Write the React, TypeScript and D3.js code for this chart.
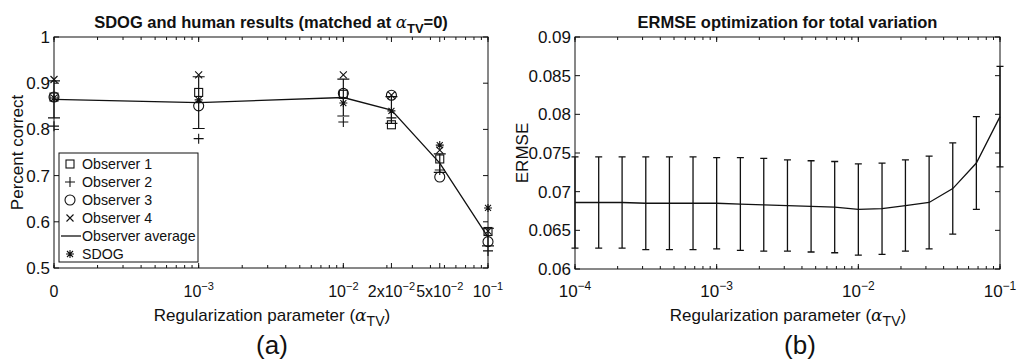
import * as d3 from 'd3'

// ---- left panel data: (a) SDOG and human results
const alphaA = [0.0001, 0.001, 0.01, 0.0215, 0.0464, 0.1]
const tickLabelsA = [
  { base: '0', sup: '' },
  { base: '10', sup: '−3' },
  { base: '10', sup: '−2' },
  { base: '2x10', sup: '−2' },
  { base: '5x10', sup: '−2' },
  { base: '10', sup: '−1' },
]
const observer1 = [0.87, 0.88, 0.876, 0.81, 0.736, 0.579]
const observer2 = [0.807, 0.78, 0.816, 0.825, 0.712, 0.537]
const observer3 = [0.87, 0.851, 0.878, 0.874, 0.697, 0.557]
const observer4 = [0.908, 0.918, 0.918, 0.874, 0.755, 0.58]
const observerAvg = [0.865, 0.858, 0.869, 0.842, 0.727, 0.567]
const observerErr = [0.04, 0.056, 0.04, 0.029, 0.02, 0.019]
const sdog = [0.868, 0.864, 0.857, 0.84, 0.766, 0.63]
const yTicksA = [0.5, 0.6, 0.7, 0.8, 0.9, 1]

// ---- right panel data: (b) ERMSE optimization
const alphaB = [
  0.0001, 0.000147, 0.000215, 0.000316, 0.000464, 0.000681, 0.001, 0.00147, 0.00215, 0.00316,
  0.00464, 0.00681, 0.01, 0.0147, 0.0215, 0.0316, 0.0464, 0.0681, 0.1,
]
const ermse = [
  0.0686, 0.0686, 0.0686, 0.0685, 0.0685, 0.0685, 0.0685, 0.0684, 0.0683, 0.0682, 0.0681, 0.068,
  0.0677, 0.0678, 0.0682, 0.0686, 0.0704, 0.0737, 0.0797,
]
const ermseErr = [
  0.0059, 0.0059, 0.0059, 0.006, 0.006, 0.006, 0.0059, 0.006, 0.006, 0.0059, 0.0059, 0.0059, 0.0059,
  0.0059, 0.0059, 0.006, 0.0059, 0.006, 0.0065,
]
const xTicksB = [0.0001, 0.001, 0.01, 0.1]
const xLabelsB = ['−4', '−3', '−2', '−1']
const yTicksB = [0.06, 0.065, 0.07, 0.075, 0.08, 0.085, 0.09]

const FONT = '"Liberation Sans", Arial, Helvetica, sans-serif'
const INK = '#111'

type MarkerKind = 'square' | 'plus' | 'circle' | 'x' | 'star'

function Marker({ kind, x, y }: { kind: MarkerKind; x: number; y: number }) {
  const s = { stroke: INK, strokeWidth: 1.1, fill: 'none' }
  if (kind === 'square') return <rect x={x - 4} y={y - 4} width={8} height={8} {...s} />
  if (kind === 'circle') return <circle cx={x} cy={y} r={5} {...s} />
  if (kind === 'plus')
    return <path d={`M${x - 5},${y}H${x + 5}M${x},${y - 5}V${y + 5}`} {...s} />
  if (kind === 'x')
    return <path d={`M${x - 3.5},${y - 3.5}L${x + 3.5},${y + 3.5}M${x - 3.5},${y + 3.5}L${x + 3.5},${y - 3.5}`} {...s} />
  return (
    <path
      d={`M${x - 4},${y}H${x + 4}M${x},${y - 4}V${y + 4}M${x - 3},${y - 3}L${x + 3},${y + 3}M${x - 3},${y + 3}L${x + 3},${y - 3}`}
      {...s}
    />
  )
}

function XLabel({ cx, y }: { cx: number; y: number }) {
  return (
    <text x={cx} y={y} textAnchor="middle" fontSize={17} fontFamily={FONT} fill={INK}>
      Regularization parameter (
      <tspan fontFamily="'DejaVu Serif', serif" fontStyle="italic">α</tspan>
      <tspan dy={5} fontSize={14}>TV</tspan>
      <tspan dy={-5}>)</tspan>
    </text>
  )
}

function LogTicks({ x, top, bottom, major }: { x: d3.ScaleLogarithmic<number, number>; top: number; bottom: number; major: number[] }) {
  const minor = x.ticks()
  return (
    <g stroke={INK} strokeWidth={1}>
      {minor.map((t, i) => (
        <g key={'m' + i}>
          <line x1={x(t)} x2={x(t)} y1={bottom} y2={bottom - 3} />
          <line x1={x(t)} x2={x(t)} y1={top} y2={top + 3} />
        </g>
      ))}
      {major.map((t, i) => (
        <g key={'M' + i}>
          <line x1={x(t)} x2={x(t)} y1={bottom} y2={bottom - 5} />
          <line x1={x(t)} x2={x(t)} y1={top} y2={top + 5} />
        </g>
      ))}
    </g>
  )
}

function PanelA() {
  const x = d3.scaleLog().domain([1e-4, 1e-1]).range([54, 488])
  const y = d3.scaleLinear().domain([0.5, 1]).range([268, 37])
  const [x0, x1] = x.range()
  const [y0, y1] = y.range()
  const line = d3.line<number>().x((_, i) => x(alphaA[i])).y((d) => y(d))
  const series: [MarkerKind, number[]][] = [
    ['square', observer1],
    ['plus', observer2],
    ['circle', observer3],
    ['x', observer4],
    ['star', sdog],
  ]
  const legend: [MarkerKind | 'line', string][] = [
    ['square', 'Observer 1'],
    ['plus', 'Observer 2'],
    ['circle', 'Observer 3'],
    ['x', 'Observer 4'],
    ['line', 'Observer average'],
    ['star', 'SDOG'],
  ]
  return (
    <g>
      <text x={(x0 + x1) / 2} y={28} textAnchor="middle" fontSize={16.5} fontWeight="bold" fontFamily={FONT} fill={INK}>
        SDOG and human results (matched at{' '}
        <tspan fontFamily="'DejaVu Serif', serif" fontStyle="italic" fontWeight="normal">α</tspan>
        <tspan dy={5} fontSize={13}>TV</tspan>
        <tspan dy={-5}>=0)</tspan>
      </text>
      <rect x={x0} y={y1} width={x1 - x0} height={y0 - y1} fill="none" stroke={INK} strokeWidth={1} />
      <LogTicks x={x} top={y1} bottom={y0} major={alphaA} />
      {yTicksA.map((t) => (
        <g key={t}>
          <line x1={x0} x2={x0 + 5} y1={y(t)} y2={y(t)} stroke={INK} />
          <line x1={x1} x2={x1 - 5} y1={y(t)} y2={y(t)} stroke={INK} />
          <text x={x0 - 4} y={y(t) + 6} textAnchor="end" fontSize={17} fontFamily={FONT} fill={INK}>
            {t === 1 ? '1' : t.toFixed(1)}
          </text>
        </g>
      ))}
      {tickLabelsA.map((l, i) => (
        <text key={i} x={x(alphaA[i])} y={297} textAnchor="middle" fontSize={16} fontFamily={FONT} fill={INK}>
          {l.base}
          {l.sup && (
            <tspan dy={-7} fontSize={11}>
              {l.sup}
            </tspan>
          )}
        </text>
      ))}
      <text transform={`translate(23,${(y0 + y1) / 2}) rotate(-90)`} textAnchor="middle" fontSize={17} fontFamily={FONT} fill={INK}>
        Percent correct
      </text>
      <XLabel cx={272} y={321} />
      <text x={272} y={354} textAnchor="middle" fontSize={26} fontFamily={FONT} fill={INK}>
        (a)
      </text>
      {/* error bars */}
      {observerAvg.map((m, i) => {
        const cx = x(alphaA[i])
        const ya = y(m + observerErr[i])
        const yb = y(m - observerErr[i])
        return (
          <path key={i} d={`M${cx},${ya}V${yb}M${cx - 6},${ya}H${cx + 6}M${cx - 6},${yb}H${cx + 6}`} stroke={INK} strokeWidth={1.2} fill="none" />
        )
      })}
      <path d={line(observerAvg) || ''} fill="none" stroke={INK} strokeWidth={1.3} />
      {series.map(([kind, vals]) =>
        vals.map((v, i) => <Marker key={kind + i} kind={kind} x={x(alphaA[i])} y={y(v)} />)
      )}
      {/* legend */}
      <rect x={59} y={153} width={139} height={109} fill="#fff" stroke={INK} strokeWidth={1} />
      {legend.map(([kind, label], i) => {
        const ly = 164 + i * 18
        return (
          <g key={label}>
            {kind === 'line' ? (
              <line x1={61} x2={81} y1={ly} y2={ly} stroke={INK} strokeWidth={1.3} />
            ) : (
              <Marker kind={kind} x={70} y={ly} />
            )}
            <text x={82} y={ly + 5} fontSize={14.2} fontFamily={FONT} fill={INK}>
              {label}
            </text>
          </g>
        )
      })}
    </g>
  )
}

function PanelB() {
  const x = d3.scaleLog().domain([1e-4, 1e-1]).range([575, 1000])
  const y = d3.scaleLinear().domain([0.06, 0.09]).range([269, 37])
  const [x0, x1] = x.range()
  const [y0, y1] = y.range()
  const line = d3.line<number>().x((_, i) => x(alphaB[i])).y((d) => y(d))
  return (
    <g>
      <text x={(x0 + x1) / 2} y={28} textAnchor="middle" fontSize={16.5} fontWeight="bold" fontFamily={FONT} fill={INK}>
        ERMSE optimization for total variation
      </text>
      <rect x={x0} y={y1} width={x1 - x0} height={y0 - y1} fill="none" stroke={INK} strokeWidth={1} />
      <LogTicks x={x} top={y1} bottom={y0} major={xTicksB} />
      {yTicksB.map((t) => (
        <g key={t}>
          <line x1={x0} x2={x0 + 5} y1={y(t)} y2={y(t)} stroke={INK} />
          <line x1={x1} x2={x1 - 5} y1={y(t)} y2={y(t)} stroke={INK} />
          <text x={x0 - 4} y={y(t) + 6} textAnchor="end" fontSize={17} fontFamily={FONT} fill={INK}>
            {d3.format('~g')(t)}
          </text>
        </g>
      ))}
      {xTicksB.map((t, i) => (
        <text key={t} x={x(t)} y={297} textAnchor="middle" fontSize={17} fontFamily={FONT} fill={INK}>
          10
          <tspan dy={-7} fontSize={12}>
            {xLabelsB[i]}
          </tspan>
        </text>
      ))}
      <text transform={`translate(528,${(y0 + y1) / 2}) rotate(-90)`} textAnchor="middle" fontSize={17} fontFamily={FONT} fill={INK}>
        ERMSE
      </text>
      <XLabel cx={788} y={321} />
      <text x={800} y={354} textAnchor="middle" fontSize={26} fontFamily={FONT} fill={INK}>
        (b)
      </text>
      {ermse.map((m, i) => {
        const cx = x(alphaB[i])
        const ya = y(m + ermseErr[i])
        const yb = y(m - ermseErr[i])
        return (
          <path key={i} d={`M${cx},${ya}V${yb}M${cx - 3.5},${ya}H${cx + 3.5}M${cx - 3.5},${yb}H${cx + 3.5}`} stroke={INK} strokeWidth={1.3} fill="none" />
        )
      })}
      <path d={line(ermse) || ''} fill="none" stroke={INK} strokeWidth={1.3} />
    </g>
  )
}

export default function App() {
  return (
    <svg width={1017} height={362} style={{ position: 'absolute', left: 0, top: 0, background: '#fff' }}>
      <rect width={1017} height={362} fill="#fff" />
      <PanelA />
      <PanelB />
    </svg>
  )
}
